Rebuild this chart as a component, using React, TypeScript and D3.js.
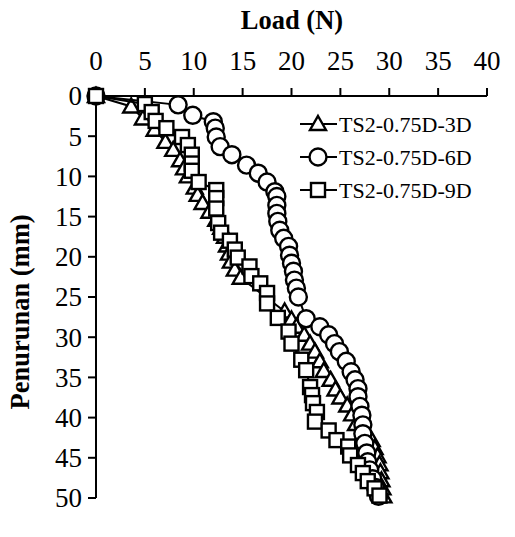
import React from "react";
import * as d3 from "d3";

// Load (N) vs settlement (mm) for three test configurations
const loads3D = [0, 3.6, 4.8, 6.0, 7.1, 7.9, 8.6, 9.0, 9.4, 10.1, 10.4, 10.9, 11.6, 12.3, 12.8, 13.2, 13.4, 13.6, 13.8, 14.2, 14.8, 19.3, 20.0, 20.5, 21.3, 21.9, 22.4, 22.9, 23.3, 24.0, 24.5, 25.0, 25.7, 26.2, 26.6, 27.4, 28.2, 28.5, 28.8, 29.0, 29.1, 29.2, 29.3, 29.4];
const settle3D = [0, 1.3, 2.8, 4.2, 5.7, 6.7, 8.0, 9.0, 10.0, 11.4, 12.3, 13.3, 14.4, 15.4, 16.4, 17.5, 18.6, 19.6, 20.6, 21.6, 22.6, 26.8, 27.8, 28.7, 29.7, 30.8, 31.8, 33.0, 34.2, 35.3, 36.5, 37.5, 38.5, 39.6, 40.8, 41.8, 42.8, 43.8, 44.8, 45.8, 46.8, 47.8, 48.8, 49.8];

const loads6D = [0, 8.4, 9.9, 12.0, 12.2, 12.3, 12.7, 13.9, 15.4, 16.6, 17.5, 18.3, 18.5, 18.5, 18.5, 18.6, 18.8, 19.2, 19.7, 19.8, 20.0, 20.2, 20.3, 20.5, 20.7, 21.5, 22.9, 23.8, 24.4, 24.9, 25.6, 26.1, 26.5, 26.8, 26.8, 27.0, 27.2, 27.3, 27.3, 27.5, 27.7, 27.8, 28.0, 28.3, 28.6, 28.9];
const settle6D = [0, 1.1, 2.4, 3.2, 4.0, 5.1, 6.3, 7.3, 8.6, 9.6, 10.7, 11.9, 12.5, 13.6, 14.6, 15.6, 16.7, 17.7, 18.7, 19.8, 20.8, 21.8, 22.9, 23.9, 25.0, 27.7, 28.7, 29.7, 30.8, 31.8, 33.0, 34.3, 35.3, 36.4, 37.4, 38.6, 39.7, 40.9, 42.0, 43.2, 44.4, 45.5, 46.5, 47.6, 48.7, 49.8];

const loads9D = [0, 5.0, 5.7, 6.1, 7.2, 8.8, 9.4, 9.8, 9.8, 9.8, 10.5, 12.3, 12.3, 12.3, 12.5, 12.8, 13.7, 14.2, 14.5, 15.7, 15.9, 16.8, 17.5, 17.5, 18.6, 19.7, 20.0, 21.0, 21.5, 21.9, 22.1, 22.2, 22.6, 22.4, 23.8, 24.6, 25.8, 26.0, 26.8, 27.3, 27.8, 28.5, 29.0];
const settle9D = [0, 1.0, 2.0, 3.1, 4.0, 5.1, 6.1, 7.3, 8.4, 9.3, 10.7, 11.7, 12.7, 14.0, 15.8, 17.0, 18.0, 19.1, 20.1, 21.2, 22.4, 23.3, 24.5, 25.8, 27.6, 29.3, 30.8, 32.8, 34.1, 36.2, 37.2, 38.2, 39.3, 40.5, 41.6, 42.8, 43.6, 44.7, 45.9, 46.9, 47.9, 48.8, 49.7];

const seriesNames = ["TS2-0.75D-3D", "TS2-0.75D-6D", "TS2-0.75D-9D"];
const seriesShapes = ["triangle", "circle", "square"];

const loadTicks = [0, 5, 10, 15, 20, 25, 30, 35, 40];
const settleTicks = [0, 5, 10, 15, 20, 25, 30, 35, 40, 45, 50];

const W = 515;
const H = 537;
const FONT = "Liberation Serif";

function Marker({ shape, x, y }: { shape: string; x: number; y: number }) {
  const common = { fill: "#fff", stroke: "#000", strokeWidth: 2.4 };
  if (shape === "circle") return <circle cx={x} cy={y} r={8.5} {...common} />;
  if (shape === "square") return <rect x={x - 7} y={y - 7} width={14} height={14} {...common} />;
  const s = 8;
  return <path d={`M${x},${y - s}L${x + s},${y + s * 0.75}L${x - s},${y + s * 0.75}Z`} {...common} strokeLinejoin="miter" />;
}

export default function App() {
  const x = d3.scaleLinear().domain([0, 40]).range([96, 487]);
  const y = d3.scaleLinear().domain([0, 50]).range([96, 498]);

  const series = [
    { name: seriesNames[0], shape: seriesShapes[0], pts: loads3D.map((l, i) => [l, settle3D[i]]) },
    { name: seriesNames[1], shape: seriesShapes[1], pts: loads6D.map((l, i) => [l, settle6D[i]]) },
    { name: seriesNames[2], shape: seriesShapes[2], pts: loads9D.map((l, i) => [l, settle9D[i]]) },
  ];

  const line = d3
    .line<number[]>()
    .x((d) => x(d[0]))
    .y((d) => y(d[1]));

  const legendY = [124, 157, 190];
  const txt = { fontFamily: FONT };

  return (
    <svg width={W} height={H} style={{ position: "absolute", left: 0, top: 0, background: "#fff" }}>
      <rect width={W} height={H} fill="#fff" />
      {/* axes */}
      <line x1={x(0)} x2={x(40)} y1={y(0)} y2={y(0)} stroke="#000" strokeWidth={2} />
      <line x1={x(0)} x2={x(0)} y1={y(0)} y2={y(50)} stroke="#000" strokeWidth={2} />
      {loadTicks.map((t) => (
        <g key={"xt" + t}>
          <line x1={x(t)} x2={x(t)} y1={y(0)} y2={y(0) - 8} stroke="#000" strokeWidth={2} />
          <text x={x(t)} y={70} textAnchor="middle" fontSize={27} style={txt}>
            {t}
          </text>
        </g>
      ))}
      {settleTicks.map((t) => (
        <g key={"yt" + t}>
          <line x1={x(0) - 8} x2={x(0)} y1={y(t)} y2={y(t)} stroke="#000" strokeWidth={2} />
          <text x={82} y={y(t)} dy="0.35em" textAnchor="end" fontSize={27} style={txt}>
            {t}
          </text>
        </g>
      ))}
      <text x={292} y={29} textAnchor="middle" fontSize={26.5} fontWeight="bold" style={txt}>
        Load (N)
      </text>
      <text
        transform={`translate(29,312) rotate(-90)`}
        textAnchor="middle"
        fontSize={26.5}
        fontWeight="bold"
        style={txt}
      >
        Penurunan (mm)
      </text>
      {/* series */}
      {series.map((s) => (
        <g key={s.name}>
          <path d={line(s.pts) || ""} fill="none" stroke="#000" strokeWidth={2} />
          {s.pts.map((p, i) => (
            <Marker key={i} shape={s.shape} x={x(p[0])} y={y(p[1])} />
          ))}
        </g>
      ))}
      {/* legend */}
      {series.map((s, i) => (
        <g key={"lg" + s.name}>
          <line x1={300} x2={337} y1={legendY[i]} y2={legendY[i]} stroke="#000" strokeWidth={2} />
          <Marker shape={s.shape} x={318} y={legendY[i]} />
          <text x={339} y={legendY[i]} dy="0.35em" fontSize={22} style={txt}>
            {s.name}
          </text>
        </g>
      ))}
    </svg>
  );
}
